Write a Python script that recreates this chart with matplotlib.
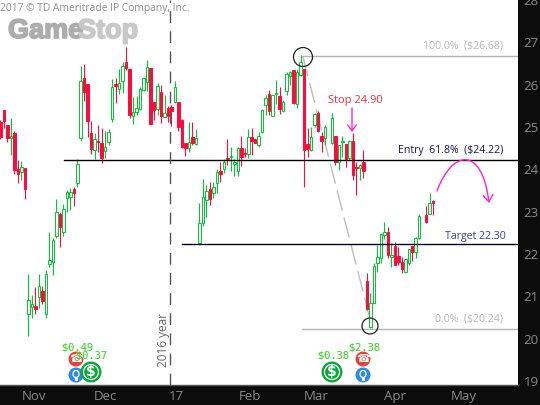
import numpy as np
import matplotlib
matplotlib.use("Agg")
import matplotlib.pyplot as plt
import matplotlib.patheffects as pe
from matplotlib.patches import Circle, FancyArrowPatch, Ellipse, Rectangle
from matplotlib.path import Path

nan = float('nan')
opens = [25.11,25.40,25.04,24.74,24.85,24.00,23.93,24.03,20.59,20.75,20.77,20.99,21.13,20.59,21.77,21.81,22.42,22.94,22.52,23.32,23.34,23.53,23.67,24.74,26.15,
26.01,24.85,24.45,24.67,24.62,24.43,24.64,25.18,26.01,25.91,26.08,26.53,26.36,25.25,25.35,25.42,25.87,26.06,26.39,25.58,25.42,25.82,25.23,25.44,25.47,
25.58,25.58,25.16,24.62,24.50,24.76,24.59,22.26,22.73,23.27,23.53,23.44,23.67,23.96,24.00,24.26,24.29,24.12,23.96,24.50,24.38,24.36,24.76,24.71,24.57,
24.88,25.51,25.77,25.25,25.77,25.73,25.37,25.84,26.20,26.34,25.54,26.22,26.36,24.59,24.45,25.04,25.33,24.78,24.74,nan,24.62,24.78,24.17,24.64,24.59,
24.26,24.67,24.05,24.03,24.17,21.36,20.28,20.85,21.79,21.91,22.45,22.52,21.93,22.19,21.95,21.81,21.58,21.79,22.19,22.05,22.38,nan,22.92,22.94,23.25]
closes = [24.76,25.14,24.74,24.78,23.98,23.89,24.05,23.53,20.92,20.82,20.70,21.25,20.89,21.53,21.86,22.33,22.99,22.64,23.06,23.46,23.46,23.44,24.12,26.08,25.82,
25.14,24.48,24.71,24.64,24.26,24.52,24.88,25.94,25.96,26.03,26.43,26.39,25.28,25.35,25.44,25.91,26.15,26.41,25.07,25.40,25.96,25.25,25.33,25.25,25.37,
25.94,25.00,24.52,24.50,24.64,24.62,24.74,22.73,23.34,23.49,23.30,23.58,23.93,23.89,24.17,24.24,24.31,24.17,24.50,24.29,24.36,24.76,24.67,24.62,24.78,
25.40,25.68,25.37,25.75,25.80,25.42,25.58,26.25,26.29,25.56,26.29,26.53,24.45,24.48,24.76,25.30,24.90,24.67,25.00,nan,25.21,24.17,24.57,24.67,24.24,
24.67,23.86,24.03,24.10,23.96,20.70,20.85,21.72,21.93,22.47,22.52,21.98,21.98,21.74,21.81,21.65,21.88,22.12,22.05,22.38,22.90,nan,22.76,23.20,23.20]
highs = [25.16,25.40,25.04,25.21,24.90,24.22,24.19,24.03,21.53,21.03,21.22,21.53,21.25,21.62,22.52,22.38,23.30,22.99,23.18,23.51,23.56,23.58,24.24,26.43,26.50,
26.01,25.14,24.85,25.04,24.97,24.90,24.95,26.13,26.15,26.36,26.53,26.88,26.36,25.70,25.73,25.94,26.17,26.58,26.39,25.58,26.03,25.99,25.75,25.49,25.51,
26.08,25.58,25.18,24.62,25.11,25.11,24.95,23.20,23.77,23.63,23.70,23.70,24.00,24.17,24.24,24.71,24.52,24.24,24.52,24.78,24.50,24.95,24.97,24.71,24.88,
25.42,25.75,25.87,25.75,26.10,25.94,25.63,26.29,26.32,26.34,26.36,26.69,26.36,24.97,25.00,25.33,25.37,24.88,25.04,nan,25.33,24.78,24.57,24.78,24.59,
24.69,24.85,24.17,24.12,24.45,21.55,21.08,21.79,22.21,22.50,22.76,22.64,22.26,22.28,22.17,21.93,21.88,22.12,22.19,22.40,22.94,nan,23.13,23.44,23.27]
lows = [24.71,24.97,24.64,24.34,23.89,23.67,23.75,23.30,20.07,20.49,20.59,20.73,20.82,20.49,21.69,21.51,22.38,22.17,22.42,22.99,23.04,23.13,23.58,24.67,25.61,
24.76,24.36,24.24,24.41,24.15,24.26,24.57,25.11,25.56,25.77,25.80,26.34,25.21,25.07,25.28,25.40,25.84,25.84,25.07,25.16,25.28,25.09,25.23,25.11,25.02,
25.56,24.90,24.50,24.31,24.41,24.57,24.57,22.26,22.66,22.87,23.16,23.32,23.44,23.70,23.91,24.10,23.96,23.84,23.84,24.08,24.29,24.26,24.34,24.62,24.52,
24.85,25.28,25.28,25.25,25.54,25.30,25.35,25.75,25.99,25.54,25.44,26.20,23.58,24.29,24.43,25.00,24.88,24.41,24.57,nan,24.59,24.10,23.98,24.29,24.05,
24.22,23.75,23.39,23.75,23.79,20.68,20.26,20.85,21.58,21.79,22.35,21.91,21.69,21.74,21.74,21.55,21.55,21.74,21.84,21.91,22.35,nan,22.73,22.94,22.92]

y_ticks = [19, 20, 21, 22, 23, 24, 25, 26, 27, 28]
month_labels = ['Nov', 'Dec', '17', 'Feb', 'Mar', 'Apr', 'May']
month_pos = [9.6, 30.2, 50.3, 71.5, 90.4, 113.0, 132.8]
entry_level, target_level = 24.23, 22.25
fib_high, fib_low = 26.68, 20.24

GREEN = '#00c832'
RED = '#ff0a3c'
PANEL = '#0c0c0c'

fig = plt.figure(figsize=(5.4, 4.05), dpi=100, facecolor=PANEL)
ax = fig.add_axes([0, 20/405, 518/540, 385/405], facecolor='white')
ax.set_xlim(-0.14, 148.3)
ax.set_ylim(18.91, 27.99)

x = np.arange(len(opens))
o, c, h, l = map(np.array, (opens, closes, highs, lows))
up = c >= o
colors = np.where(up, GREEN, RED)
ok = ~np.isnan(o)
ax.vlines(x[ok], l[ok], h[ok], colors=colors[ok], lw=0.8, zorder=3)
faces = np.where(up, 'white', RED)
ax.bar(x[ok], np.maximum(np.abs(c - o)[ok], 0.02), bottom=np.minimum(o, c)[ok], width=0.72,
       facecolor=faces[ok], edgecolor=colors[ok], linewidth=0.7, zorder=4)

line_kw = dict(zorder=5)
ax.plot([18.2, 148.3], [entry_level]*2, color='black', lw=1.0, **line_kw)
ax.plot([52, 148.3], [target_level]*2, color='#000022', lw=1.0, **line_kw)
ax.plot([86.4, 148.3], [fib_high]*2, color='#b4b4b4', lw=1.0, zorder=2)
ax.plot([86.4, 148.3], [fib_low]*2, color='#b4b4b4', lw=1.0, zorder=2)
ax.plot([86.6, 106.6], [fib_high, fib_low], color='#bdbdbd', lw=1.0, dashes=(15, 5), zorder=2)
ax.axvline(48.7, color='#555555', lw=1.0, dashes=(8.5, 6), zorder=6)

ax.set_yticks(y_ticks)
ax.set_xticks(month_pos)
ax.set_xticklabels(month_labels)
ax.yaxis.tick_right()
ax.tick_params(axis='both', length=0, colors='#8a8a8a', labelsize=9.5)
ax.tick_params(axis='x', pad=3.5)
ax.tick_params(axis='y', pad=4)
for lab in ax.get_xticklabels() + ax.get_yticklabels():
    lab.set_fontfamily('Open Sans')
for s in ax.spines.values():
    s.set_visible(False)
ax.spines['bottom'].set_visible(True)
ax.spines['bottom'].set_color('#555555')
ax.spines['bottom'].set_linewidth(1)

# overlay in pixel units for the annotations
ov = fig.add_axes([0, 0, 1, 1], facecolor='none')
ov.set_xlim(0, 540); ov.set_ylim(405, 0); ov.axis('off')

ov.text(0, 9, '2017 © TD Ameritrade IP Company, Inc.', color='#8f8f8f', fontsize=7.4,
        family='Open Sans', va='center', ha='left')
heavy_a = [pe.withStroke(linewidth=1.2, foreground='#adadad')]
heavy_b = [pe.withStroke(linewidth=1.2, foreground='#c8c8c8')]
ov.text(8, 31, 'Game', color='#adadad', fontsize=19.5, fontweight='bold', family='Liberation Sans',
        va='center', ha='left', path_effects=heavy_a)
ov.text(78, 31, 'Stop', color='#c8c8c8', fontsize=19.5, fontweight='bold', family='Liberation Sans',
        va='center', ha='left', path_effects=heavy_b)
ov.text(163, 340, '2016 year', color='#666666', fontsize=8.5, rotation=90, family='Open Sans',
        va='center', ha='center')

ov.text(503, 46, '100.0%  ($26.68)', color='#b8b8b8', fontsize=7.6, family='Open Sans', ha='right', va='center')
ov.text(503, 150, 'Entry  61.8%  ($24.22)', color='#1a1a50', fontsize=7.6, family='Open Sans', ha='right', va='center')
ov.text(506, 236, 'Target 22.30', color='#3a3f90', fontsize=7.6, family='Open Sans', ha='right', va='center')
ov.text(503, 319, '0.0%  ($20.24)', color='#b8b8b8', fontsize=7.6, family='Open Sans', ha='right', va='center')
ov.text(355, 100, 'Stop 24.90', color='#f0303c', fontsize=8, family='Open Sans', ha='center', va='center')

ov.add_patch(FancyArrowPatch((352, 108), (352, 132), arrowstyle='->,head_width=2.2,head_length=3',
                             color='#ff20d0', lw=1.0, shrinkA=0, shrinkB=0, mutation_scale=1.4))
verts = [(437, 191), (452, 150), (482, 145), (489, 203)]
ov.add_patch(FancyArrowPatch(path=Path(verts, [Path.MOVETO, Path.CURVE4, Path.CURVE4, Path.CURVE4]),
                             arrowstyle='->,head_width=2.5,head_length=3.5', color='#ff20d0', lw=1.0,
                             mutation_scale=1.4))

ov.add_patch(Circle((303, 57), 9.5, fill=False, ec='#222222', lw=0.9, zorder=7))
ov.add_patch(Circle((370, 326), 8, fill=False, ec='#222222', lw=0.9, zorder=7))

def dollar(cx, cy):
    ov.add_patch(Circle((cx, cy), 10.5, fc='#0aa83a', ec='none', zorder=8))
    ov.add_patch(Circle((cx, cy), 7.5, fc='none', ec='white', lw=0.9, zorder=9))
    ov.text(cx, cy, '$', color='white', fontsize=10, fontweight='bold', ha='center', va='center', zorder=10)

def red_icon(cx, cy):
    ov.add_patch(Circle((cx, cy), 7.5, fc='#e8413c', ec='none', zorder=8))
    ov.text(cx, cy, '\u260e', color='white', fontsize=8, family='DejaVu Sans', ha='center', va='center', zorder=9)

def blue_icon(cx, cy):
    ov.add_patch(Circle((cx, cy), 7.5, fc='#2a8ae6', ec='none', zorder=8))
    ov.add_patch(Ellipse((cx, cy-1), 6, 7, fc='#2a8ae6', ec='white', lw=0.9, zorder=9))
    ov.add_patch(Rectangle((cx-1.5, cy+3), 3, 2.5, fc='white', ec='none', zorder=9))

red_icon(76, 359); blue_icon(76, 375); dollar(91, 372)
red_icon(363, 359); blue_icon(363, 375); dollar(332, 372)

for tx, ty, t in [(77, 347, '$0.49'), (91, 356, '$0.37'), (333, 356, '$0.38'), (364, 347, '$2.38')]:
    ov.text(tx, ty, t, color='#e6e640', fontsize=7.5, family='DejaVu Sans Mono', ha='center', va='center', zorder=11, alpha=.75)
    ov.text(tx + .6, ty, t, color='#10c858', fontsize=7.5, family='DejaVu Sans Mono', ha='center', va='center', zorder=11, alpha=.85)

fig.savefig('out.png', dpi=100, facecolor=fig.get_facecolor())
